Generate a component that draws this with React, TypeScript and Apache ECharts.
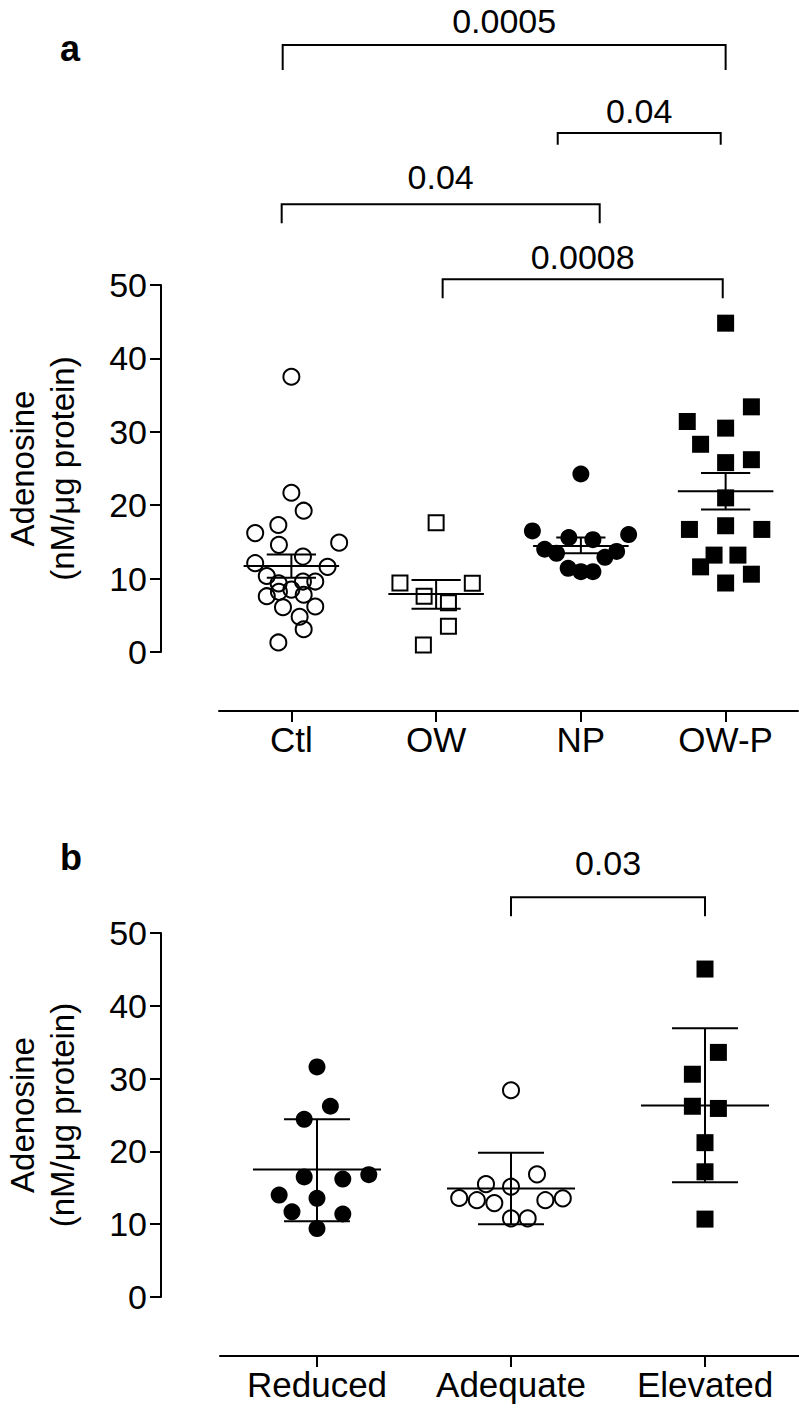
import React, { useEffect, useRef } from "react";
import * as echarts from "echarts";

const FONT = '"Liberation Sans", Arial, Helvetica, sans-serif';

// ---------- Panel a ----------
const catsA = ["Ctl", "OW", "NP", "OW-P"];
const ctlVals = [37.5, 21.7, 19.25, 17.3, 16.2, 14.9, 14.6, 13.0, 12.1, 11.6, 10.35, 9.6, 9.35, 9.6, 8.5, 8.2, 7.6, 7.8, 6.1, 6.2, 4.8, 3.1, 1.3];
const ctlJitter = [0, 0, 0.085, -0.09, -0.25, 0.33, -0.086, 0.08, -0.25, 0.25, -0.17, 0.165, -0.088, 0.08, 0, -0.086, -0.17, 0.085, -0.058, 0.165, 0.057, 0.085, -0.09];
const owVals = [17.6, 9.4, 9.35, 7.6, 6.7, 3.5, 0.95];
const owJitter = [0, -0.25, 0.25, -0.083, 0.085, 0.085, -0.088];
const npVals = [24.25, 16.5, 16.0, 15.6, 15.3, 14.0, 13.7, 13.45, 12.9, 11.4, 10.95, 10.95];
const npJitter = [0, -0.335, 0.33, -0.083, 0.083, -0.25, 0.247, -0.168, 0.166, -0.088, 0, 0.083];
const owpVals = [44.8, 33.4, 31.4, 30.5, 28.3, 25.8, 26.2, 21.0, 17.2, 16.7, 16.7, 13.2, 13.2, 11.6, 10.6, 9.4];
const owpJitter = [0, 0.178, -0.265, 0, -0.173, 0, 0.178, 0, 0, -0.25, 0.25, -0.08, 0.085, -0.173, 0.178, 0];
const meanA = [11.7, 7.9, 14.45, 21.9];
const semLoA = [10.1, 5.9, 13.45, 19.4];
const semHiA = [13.3, 9.8, 15.6, 24.4];
const pLabelsA = ["0.0005", "0.04", "0.04", "0.0008"];
const bracketFromA = [-0.06, 1.84, -0.067, 1.045];
const bracketToA = [3.0, 2.966, 2.13, 2.98];
const bracketLevelA = [82.7, 70.7, 61.0, 50.8];
const bracketDropA = [79.3, 69.1, 58.4, 48.2];
const bracketTextA = [86.0, 73.7, 64.7, 53.8];

// ---------- Panel b ----------
const catsB = ["Reduced", "Adequate", "Elevated"];
const reducedVals = [31.6, 26.2, 24.4, 16.5, 16.2, 16.8, 14.0, 13.55, 11.7, 11.4, 9.4];
const reducedJitter = [0, 0.069, -0.066, -0.066, 0.133, 0.267, -0.195, 0, -0.129, 0.133, 0];
const adequateVals = [28.4, 16.85, 15.5, 15.15, 13.6, 13.3, 12.9, 13.3, 13.55, 10.8, 10.8];
const adequateJitter = [0, 0.134, -0.129, 0, -0.267, -0.176, -0.086, 0.177, 0.267, 0, 0.086];
const elevatedVals = [45.05, 33.6, 30.6, 26.2, 25.9, 21.2, 17.2, 10.7];
const elevatedJitter = [0, 0.069, -0.065, -0.065, 0.069, 0, 0, 0];
const meanB = [17.5, 14.9, 26.3];
const sdLoB = [10.4, 10.0, 15.75];
const sdHiB = [24.4, 19.8, 36.9];
const pLabelsB = ["0.03"];
const bracketFromB = [1.0];
const bracketToB = [2.0];
const bracketLevelB = [54.9];
const bracketDropB = [52.3];
const bracketTextB = [59.6];

const yTicks = { min: 0, max: 50, interval: 10 };

const pts = (vals: number[], jit: number[], idx: number) => vals.map((v, i) => [idx + jit[i], v]);

const openStyle = { color: "transparent", borderColor: "#000", borderWidth: 2, opacity: 1 };
const fillStyle = { color: "#000", borderWidth: 0, opacity: 1 };

function errorRender(params: any, api: any) {
  const x = api.value(0);
  const m = api.value(1);
  const lo = api.value(2);
  const hi = api.value(3);
  const hw = 0.33;
  const cw = 0.17;
  const st = { stroke: "#000", lineWidth: 2, fill: null };
  const seg = (a: number[], b: number[]) => ({
    type: "line",
    shape: { x1: a[0], y1: a[1], x2: b[0], y2: b[1] },
    style: st,
  });
  return {
    type: "group",
    children: [
      seg(api.coord([x - hw, m]), api.coord([x + hw, m])),
      seg(api.coord([x, lo]), api.coord([x, hi])),
      seg(api.coord([x - cw, lo]), api.coord([x + cw, lo])),
      seg(api.coord([x - cw, hi]), api.coord([x + cw, hi])),
    ],
  };
}

function bracketRender(labels: string[]) {
  return (params: any, api: any) => {
    const x1 = api.value(0);
    const x2 = api.value(1);
    const yl = api.value(2);
    const yd = api.value(3);
    const yt = api.value(4);
    const p = [api.coord([x1, yd]), api.coord([x1, yl]), api.coord([x2, yl]), api.coord([x2, yd])];
    const t = api.coord([(x1 + x2) / 2, yt]);
    return {
      type: "group",
      children: [
        { type: "polyline", shape: { points: p }, style: { stroke: "#000", lineWidth: 2, fill: null } },
        {
          type: "text",
          x: t[0],
          y: t[1],
          style: {
            text: labels[params.dataIndex],
            fill: "#000",
            fontSize: 34,
            fontFamily: FONT,
            align: "center",
            verticalAlign: "middle",
          },
        },
      ],
    };
  };
}

const catAxis = (gridIndex: number, data: string[]) => ({
  type: "category",
  gridIndex,
  data,
  position: "bottom",
  offset: 59,
  boundaryGap: true,
  axisLine: { show: true, onZero: false, lineStyle: { color: "#000", width: 2 } },
  axisTick: { show: true, alignWithLabel: true, length: 11, lineStyle: { color: "#000", width: 2 } },
  axisLabel: { color: "#000", fontSize: 35, fontFamily: FONT, margin: 11, interval: 0 },
  splitLine: { show: false },
});

const valXAxis = (gridIndex: number, n: number) => ({
  type: "value",
  gridIndex,
  min: -0.5,
  max: n - 0.5,
  show: false,
  position: "top",
  axisLine: { onZero: false },
  splitLine: { show: false },
});

const yAxis = (gridIndex: number, offset: number) => ({
  type: "value",
  gridIndex,
  ...yTicks,
  offset,
  axisLine: { show: true, onZero: false, lineStyle: { color: "#000", width: 2 } },
  axisTick: { show: true, length: 11, lineStyle: { color: "#000", width: 2 } },
  axisLabel: { color: "#000", fontSize: 34, fontFamily: FONT, margin: 14 },
  splitLine: { show: false },
});

const scatter = (xi: number, yi: number, data: number[][], symbol: string, size: number, itemStyle: any) => ({
  type: "scatter",
  xAxisIndex: xi,
  yAxisIndex: yi,
  data,
  symbol,
  symbolSize: size,
  itemStyle,
  z: 2,
  silent: true,
});

const yTitleStyle = {
  text: "Adenosine\n(nM/μg protein)",
  fill: "#000",
  fontSize: 33,
  fontFamily: FONT,
  lineHeight: 40,
  align: "center",
  verticalAlign: "middle",
};

const option: any = {
  animation: false,
  backgroundColor: "#fff",
  grid: [
    { left: 219, top: 285, width: 579, height: 367, outerBoundsMode: "none", containLabel: false },
    { left: 220, top: 933, width: 582, height: 364, outerBoundsMode: "none", containLabel: false },
  ],
  xAxis: [catAxis(0, catsA), valXAxis(0, catsA.length), catAxis(1, catsB), valXAxis(1, catsB.length)],
  yAxis: [yAxis(0, 58), yAxis(1, 59)],
  graphic: [
    { type: "text", x: 70, y: 48, style: { text: "a", fill: "#000", font: `bold 36px ${FONT}`, align: "center", verticalAlign: "middle" } },
    { type: "text", x: 71, y: 857, style: { text: "b", fill: "#000", font: `bold 36px ${FONT}`, align: "center", verticalAlign: "middle" } },
    { type: "text", x: 42, y: 468.5, rotation: Math.PI / 2, style: yTitleStyle },
    { type: "text", x: 42, y: 1115, rotation: Math.PI / 2, style: yTitleStyle },
  ],
  series: [
    scatter(1, 0, pts(ctlVals, ctlJitter, 0), "circle", 16, openStyle),
    scatter(1, 0, pts(owVals, owJitter, 1), "rect", 15, openStyle),
    scatter(1, 0, pts(npVals, npJitter, 2), "circle", 17, fillStyle),
    scatter(1, 0, pts(owpVals, owpJitter, 3), "rect", 17, fillStyle),
    {
      type: "custom", xAxisIndex: 1, yAxisIndex: 0, z: 5, silent: true,
      data: meanA.map((m, i) => [i, m, semLoA[i], semHiA[i]]),
      encode: { x: 0, y: [1, 2, 3] },
      renderItem: errorRender,
    },
    {
      type: "custom", xAxisIndex: 1, yAxisIndex: 0, z: 5, silent: true, clip: false,
      data: pLabelsA.map((_, i) => [bracketFromA[i], bracketToA[i], bracketLevelA[i], bracketDropA[i], bracketTextA[i]]),
      encode: { x: [0, 1], y: [2, 3, 4] },
      renderItem: bracketRender(pLabelsA),
    },
    scatter(3, 1, pts(reducedVals, reducedJitter, 0), "circle", 17, fillStyle),
    scatter(3, 1, pts(adequateVals, adequateJitter, 1), "circle", 16, openStyle),
    scatter(3, 1, pts(elevatedVals, elevatedJitter, 2), "rect", 17, fillStyle),
    {
      type: "custom", xAxisIndex: 3, yAxisIndex: 1, z: 5, silent: true,
      data: meanB.map((m, i) => [i, m, sdLoB[i], sdHiB[i]]),
      encode: { x: 0, y: [1, 2, 3] },
      renderItem: errorRender,
    },
    {
      type: "custom", xAxisIndex: 3, yAxisIndex: 1, z: 5, silent: true, clip: false,
      data: pLabelsB.map((_, i) => [bracketFromB[i], bracketToB[i], bracketLevelB[i], bracketDropB[i], bracketTextB[i]]),
      encode: { x: [0, 1], y: [2, 3, 4] },
      renderItem: bracketRender(pLabelsB),
    },
  ],
};

export default function App() {
  const ref = useRef<HTMLDivElement>(null);
  useEffect(() => {
    document.body.style.margin = "0";
    const chart = echarts.init(ref.current as HTMLDivElement, null, { renderer: "svg" });
    chart.setOption(option);
    return () => chart.dispose();
  }, []);
  return (
    <div
      ref={ref}
      style={{ width: 799, height: 1413, position: "absolute", left: 0, top: 0, background: "#fff" }}
    />
  );
}
